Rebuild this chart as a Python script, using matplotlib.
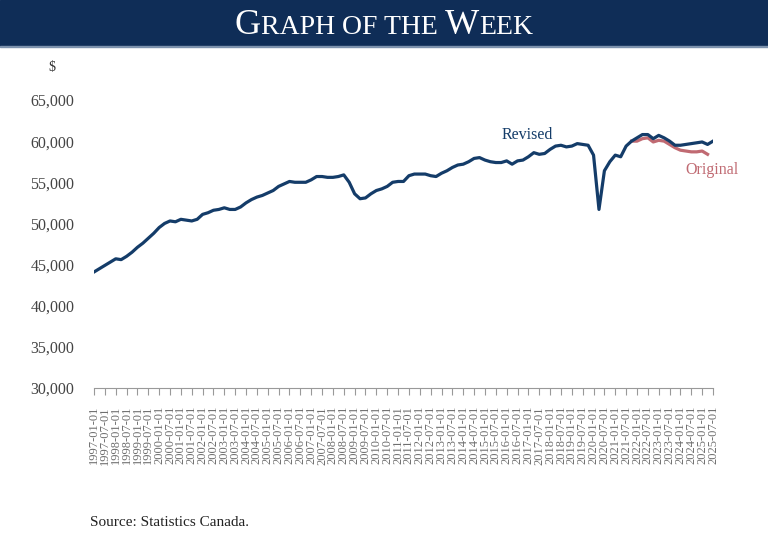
import numpy as np
import pandas as pd
import matplotlib
matplotlib.use("Agg")
import matplotlib.pyplot as plt
from matplotlib.patches import Rectangle

plt.rcParams['font.family'] = ['Liberation Serif', 'DejaVu Serif']

# quarterly, 1997Q1 .. 2025Q3 (dollars)
revised = [
    44100, 44500, 44900, 45300, 45700, 45600, 46000, 46500, 47100, 47600,
    48200, 48800, 49500, 50000, 50300, 50200, 50500, 50400, 50300, 50500,
    51100, 51300, 51600, 51700, 51900, 51700, 51700, 52000, 52500, 52900,
    53200, 53400, 53700, 54000, 54500, 54800, 55100, 55000, 55000, 55000,
    55300, 55700, 55700, 55600, 55600, 55700, 55900, 55000, 53600, 53000,
    53100, 53600, 54000, 54200, 54500, 55000, 55100, 55100, 55800, 56000,
    56000, 56000, 55800, 55700, 56100, 56400, 56800, 57100, 57200, 57500,
    57900, 58000, 57700, 57500, 57400, 57400, 57600, 57200, 57600, 57700,
    58100, 58600, 58400, 58500, 59000, 59400, 59500, 59300, 59400, 59700,
    59600, 59500, 58300, 51700, 56400, 57500, 58300, 58100, 59400, 60000,
    60400, 60800, 60800, 60300, 60700, 60400, 60000, 59500, 59500, 59600,
    59700, 59800, 59900, 59600, 60000,
]
# original estimates, 2021Q4 .. 2025Q2
original = [
    60000, 60000, 60300, 60400, 59900, 60100, 60000, 59600, 59200, 58900,
    58800, 58700, 58700, 58800, 58400,
]

dates = pd.date_range("1997-01-01", periods=len(revised), freq="QS")
x = np.arange(len(revised))
x_orig = np.arange(len(revised) - len(original) - 1, len(revised) - 1)

navy = "#143c69"
red = "#c06a72"
grey = "#6e6e6e"

fig = plt.figure(figsize=(7.68, 5.46), dpi=100)
fig.patches.append(Rectangle((0, 1 - 46 / 546), 1, 46 / 546, transform=fig.transFigure,
                             color="#0f2d57", zorder=0))
fig.patches.append(Rectangle((0, 1 - 47 / 546), 1, 1.2 / 546, transform=fig.transFigure,
                             color="#7d92ad", zorder=0))

# small-caps style title
pieces = [("G", 26), ("RAPH ", 20), ("OF ", 20), ("THE ", 20), ("W", 26), ("EEK", 20)]
renderer = fig.canvas.get_renderer()
texts = []
for s, fs in pieces:
    texts.append(fig.text(0, 0, s, fontsize=fs, color="white", va="baseline"))
widths = [t.get_window_extent(renderer).width for t in texts]
total = sum(widths)
xpos = (768 - total) / 2
for t, w in zip(texts, widths):
    t.set_position((xpos / 768, 1 - 34 / 546))
    xpos += w

ax = fig.add_axes([94 / 768, 1 - 388 / 546, (713 - 94) / 768, (388 - 100) / 546])
ax.plot(x_orig, original, color=red, lw=2.3, solid_joinstyle="round", zorder=2)
ax.plot(x, revised, color=navy, lw=2.3, solid_joinstyle="round", zorder=3)

ax.set_xlim(0, len(revised) - 1)
ax.set_ylim(30000, 65000)
ax.set_yticks(np.arange(30000, 65001, 5000))
ax.set_yticklabels([f"{v:,}" for v in range(30000, 65001, 5000)], fontsize=11.5, color="#444444")
ax.tick_params(axis="y", length=0, pad=14)

ax.set_xticks(x[::2])
ax.set_xticklabels([d.strftime("%Y-%m-%d") for d in dates[::2]], rotation=90,
                   fontsize=9, color=grey)
ax.tick_params(axis="x", length=5, color="#999999", pad=8)

for side in ["top", "right", "left"]:
    ax.spines[side].set_visible(False)
ax.spines["bottom"].set_color("#999999")

ax.text(x[75], 60300, "Revised", color=navy, fontsize=11.5)
ax.text(x[109], 56000, "Original", color=red, fontsize=11.5)

fig.text(52 / 768, 1 - 68 / 546, "$", fontsize=10, color="#333333", ha="center", va="center")
fig.text(90 / 768, 1 - 522 / 546, "Source: Statistics Canada.", fontsize=11,
         color="#222222", va="center")

fig.savefig("out.png", dpi=100)
